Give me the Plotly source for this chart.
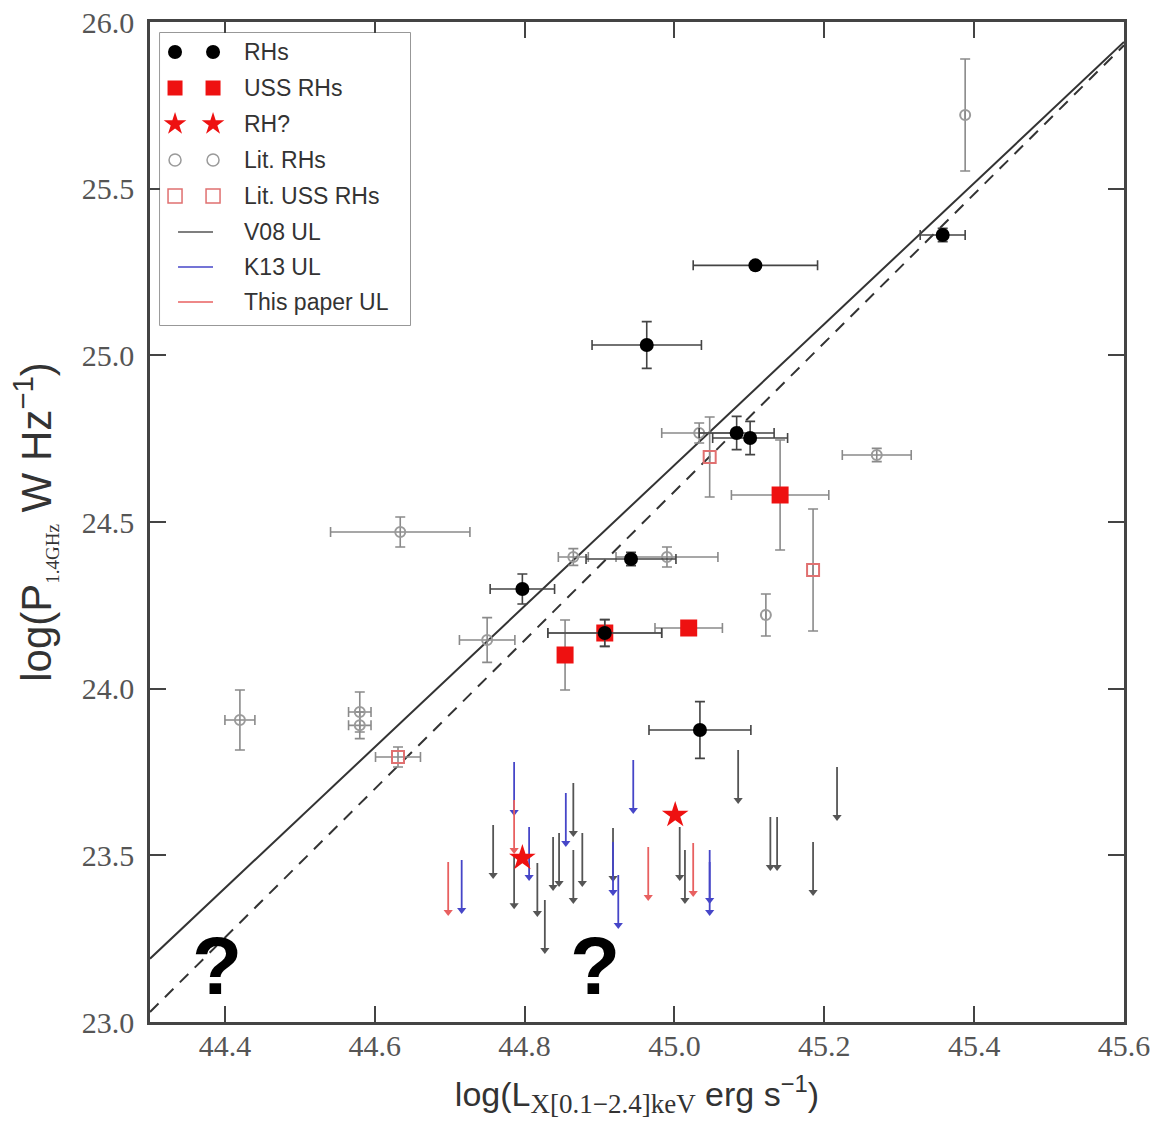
import plotly.graph_objects as go

# ---------------- data ----------------
# Radio haloes (this work): log L_X, log P_1.4GHz and 1-sigma errors
rh_x = [45.358, 45.108, 44.963, 45.083, 45.101, 44.942, 44.797, 45.034, 44.907]
rh_y = [25.361, 25.270, 25.031, 24.767, 24.752, 24.389, 24.299, 23.876, 24.167]
rh_xerr = [0.030, 0.083, 0.073, 0.050, 0.050, 0.060, 0.043, 0.068, 0.076]
rh_yerr = [0.020, 0.010, 0.070, 0.050, 0.050, 0.020, 0.045, 0.085, 0.040]

# Ultra-steep-spectrum radio haloes (this work)
uss_x = [45.141, 45.019, 44.854, 44.907]
uss_y = [24.581, 24.182, 24.101, 24.167]
uss_xerr = [0.065, 0.045, None, 0.076]
uss_yerr = [0.165, 0.020, 0.105, 0.040]

# Candidate radio haloes
rhq_x = [44.797, 45.001]
rhq_y = [23.492, 23.621]

# Radio haloes from the literature
lit_x = [45.388, 45.270, 44.634, 44.750, 44.865, 44.990, 44.420, 44.580, 44.580, 45.033, 45.122]
lit_y = [25.721, 24.701, 24.470, 24.146, 24.395, 24.395, 23.906, 23.930, 23.890, 24.767, 24.221]
lit_xerr = [None, 0.046, 0.093, 0.037, 0.020, 0.068, 0.020, 0.015, 0.015, 0.050, None]
lit_yerr = [0.168, 0.020, 0.045, 0.067, 0.025, 0.030, 0.090, 0.060, 0.040, 0.030, 0.063]

# USS radio haloes from the literature
lus_x = [44.631, 45.047, 45.185]
lus_y = [23.795, 24.695, 24.356]
lus_xerr = [0.030, None, None]
lus_yerr = [0.030, 0.120, 0.183]

# Upper limits on halo power
v08_x = [44.758, 44.786, 44.817, 44.827, 44.838, 44.846, 44.865, 44.865, 44.877,
         44.918, 45.007, 45.014, 45.085, 45.128, 45.137, 45.185, 45.217]
v08_y = [23.591, 23.500, 23.477, 23.366, 23.555, 23.567, 23.717, 23.516, 23.567,
         23.582, 23.585, 23.516, 23.816, 23.615, 23.615, 23.540, 23.765]
k13_x = [44.716, 44.786, 44.806, 44.855, 44.918, 44.925, 44.945, 45.047, 45.047]
k13_y = [23.486, 23.780, 23.585, 23.687, 23.540, 23.441, 23.786, 23.516, 23.480]
tp_x = [44.698, 44.786, 44.965, 45.025]
tp_y = [23.480, 23.666, 23.525, 23.537]

# Correlation lines (end points across the plotted range)
fit_x = [44.3, 45.6]
fit_solid_y = [23.19, 25.94]
fit_dashed_y = [23.03, 25.93]

# Overlaid question marks
qmark_x = [44.389, 44.894]
qmark_y = [23.17, 23.17]

legend_labels = ["RHs", "USS RHs", "RH?", "Lit. RHs", "Lit. USS RHs",
                 "V08 UL", "K13 UL", "This paper UL"]

UL_LEN = 0.15

# ---------------- styles ----------------
C_RH = "#000000"
C_USS = "#ee1111"
C_LIT = "#9a9a9a"
C_LUS = "#e07070"
C_V08 = "#555555"
C_K13 = "#4646c8"
C_TP = "#e86060"
C_ERR_DARK = "#444444"
C_ERR_GREY = "#8a8a8a"

SANS = "Liberation Sans, Arial, sans-serif"
SERIF = "Liberation Serif, Times New Roman, serif"

fig = go.Figure()

# correlation lines
fig.add_trace(go.Scatter(x=fit_x, y=fit_solid_y, mode="lines",
                         line=dict(color="#333333", width=2), hoverinfo="skip"))
fig.add_trace(go.Scatter(x=fit_x, y=fit_dashed_y, mode="lines",
                         line=dict(color="#333333", width=2, dash="12px,9px"),
                         hoverinfo="skip"))


def add_upper_limits(xs, ys, color):
    lx, ly, hx, hy = [], [], [], []
    for x, y in zip(xs, ys):
        lx += [x, x, None]
        ly += [y, y - UL_LEN, None]
        hx.append(x)
        hy.append(y - UL_LEN)
    fig.add_trace(go.Scatter(x=lx, y=ly, mode="lines",
                             line=dict(color=color, width=1.8), hoverinfo="skip"))
    fig.add_trace(go.Scatter(x=hx, y=hy, mode="markers",
                             marker=dict(symbol="triangle-down", size=8, color=color,
                                         line=dict(width=0)),
                             hoverinfo="skip"))


add_upper_limits(v08_x, v08_y, C_V08)
add_upper_limits(k13_x, k13_y, C_K13)
add_upper_limits(tp_x, tp_y, C_TP)


def err(arr, color):
    return dict(type="data", array=arr, color=color, thickness=1.6, width=5)


# literature haloes
fig.add_trace(go.Scatter(x=lit_x, y=lit_y, mode="markers",
                         error_x=err(lit_xerr, C_ERR_GREY), error_y=err(lit_yerr, C_ERR_GREY),
                         marker=dict(symbol="circle-open", size=10, color=C_LIT,
                                     line=dict(width=2, color=C_LIT))))
fig.add_trace(go.Scatter(x=lus_x, y=lus_y, mode="markers",
                         error_x=err(lus_xerr, C_ERR_GREY), error_y=err(lus_yerr, C_ERR_GREY),
                         marker=dict(symbol="square-open", size=12, color=C_LUS,
                                     line=dict(width=2, color=C_LUS))))

# USS haloes (this work)
fig.add_trace(go.Scatter(x=uss_x, y=uss_y, mode="markers",
                         error_x=err(uss_xerr, C_ERR_GREY), error_y=err(uss_yerr, C_ERR_GREY),
                         marker=dict(symbol="square", size=17, color=C_USS,
                                     line=dict(width=0))))

# radio haloes (this work)
fig.add_trace(go.Scatter(x=rh_x, y=rh_y, mode="markers",
                         error_x=err(rh_xerr, C_ERR_DARK), error_y=err(rh_yerr, C_ERR_DARK),
                         marker=dict(symbol="circle", size=14, color=C_RH,
                                     line=dict(width=0))))

# candidate haloes
fig.add_trace(go.Scatter(x=rhq_x, y=rhq_y, mode="markers",
                         marker=dict(symbol="star", size=20, color=C_USS,
                                     line=dict(width=0))))

# ---------------- hand-built legend (two symbols per entry) ----------------
leg_row = [19, 55, 91, 127, 163, 199, 234, 269]
leg_sym_x = [15, 53]
leg_line_x = [18, 53]
leg_text_x = 82

sym_styles = [
    dict(symbol="circle", size=14, color=C_RH),
    dict(symbol="square", size=15, color=C_USS),
    dict(symbol="star", size=17, color=C_USS),
    dict(symbol="circle-open", size=12, color=C_LIT, line=dict(width=1.5, color=C_LIT)),
    dict(symbol="square-open", size=14, color=C_LUS, line=dict(width=1.5, color=C_LUS)),
]
for row, style in zip(leg_row[:5], sym_styles):
    fig.add_trace(go.Scatter(x=leg_sym_x, y=[row, row], mode="markers", marker=style,
                             xaxis="x2", yaxis="y2", hoverinfo="skip"))
for row, color in zip(leg_row[5:], [C_V08, C_K13, C_TP]):
    fig.add_trace(go.Scatter(x=leg_line_x, y=[row, row], mode="lines",
                             line=dict(color=color, width=1.5),
                             xaxis="x2", yaxis="y2", hoverinfo="skip"))

annotations = []
for row, label in zip(leg_row, legend_labels):
    annotations.append(dict(x=leg_text_x, y=row, xref="x2", yref="y2", text=label,
                            showarrow=False, xanchor="left", yanchor="middle",
                            font=dict(family=SANS, size=23, color="#333333")))
for qx, qy in zip(qmark_x, qmark_y):
    annotations.append(dict(x=qx, y=qy, xref="x", yref="y", text="<b>?</b>",
                            showarrow=False, xanchor="center", yanchor="middle",
                            font=dict(family=SANS, size=82, color="#000000")))

tick_font = dict(family=SERIF, size=30, color="#555555")

axis_common = dict(showline=True, linecolor="#444444", linewidth=2.5, mirror="ticks",
                   ticks="inside", ticklen=16, tickwidth=2, tickcolor="#444444",
                   showgrid=False, zeroline=False, tickfont=tick_font)

x_title = ("log(L<sub><span style='font-family:Liberation Serif;font-size:27px'>"
           "X[0.1−2.4]keV</span></sub> erg s<sup>−1</sup>)")
y_title = ("log(P<sub><span style='font-family:Liberation Serif;font-size:19px'>"
           "1.4GHz</span></sub> W Hz<sup>−1</sup>)")

fig.update_layout(
    width=1153, height=1121,
    margin=dict(l=150, r=29, t=22, b=99, autoexpand=False),
    paper_bgcolor="white", plot_bgcolor="white",
    showlegend=False,
    xaxis=dict(range=[44.3, 45.6], tick0=44.4, dtick=0.2, tickformat=".1f",
               ticklabelstandoff=-5,
               title=dict(text=x_title, font=dict(family=SANS, size=34, color="#333333"),
                          standoff=22),
               **axis_common),
    yaxis=dict(range=[23.0, 26.0], tick0=23.0, dtick=0.5, tickformat=".1f",
               ticklabelstandoff=7,
               title=dict(text=y_title, font=dict(family=SANS, size=42, color="#333333"),
                          standoff=18),
               **axis_common),
    xaxis2=dict(domain=[0.0103, 0.267], range=[0, 250], visible=False, anchor="y2"),
    yaxis2=dict(domain=[0.697, 0.989], range=[292, 0], visible=False, anchor="x2"),
    annotations=annotations,
    shapes=[dict(type="rect", xref="paper", yref="paper", x0=0.0103, x1=0.267,
                 y0=0.697, y1=0.989, line=dict(color="#777777", width=1.5),
                 fillcolor="white", layer="below")],
)

fig.write_html("out.html")
